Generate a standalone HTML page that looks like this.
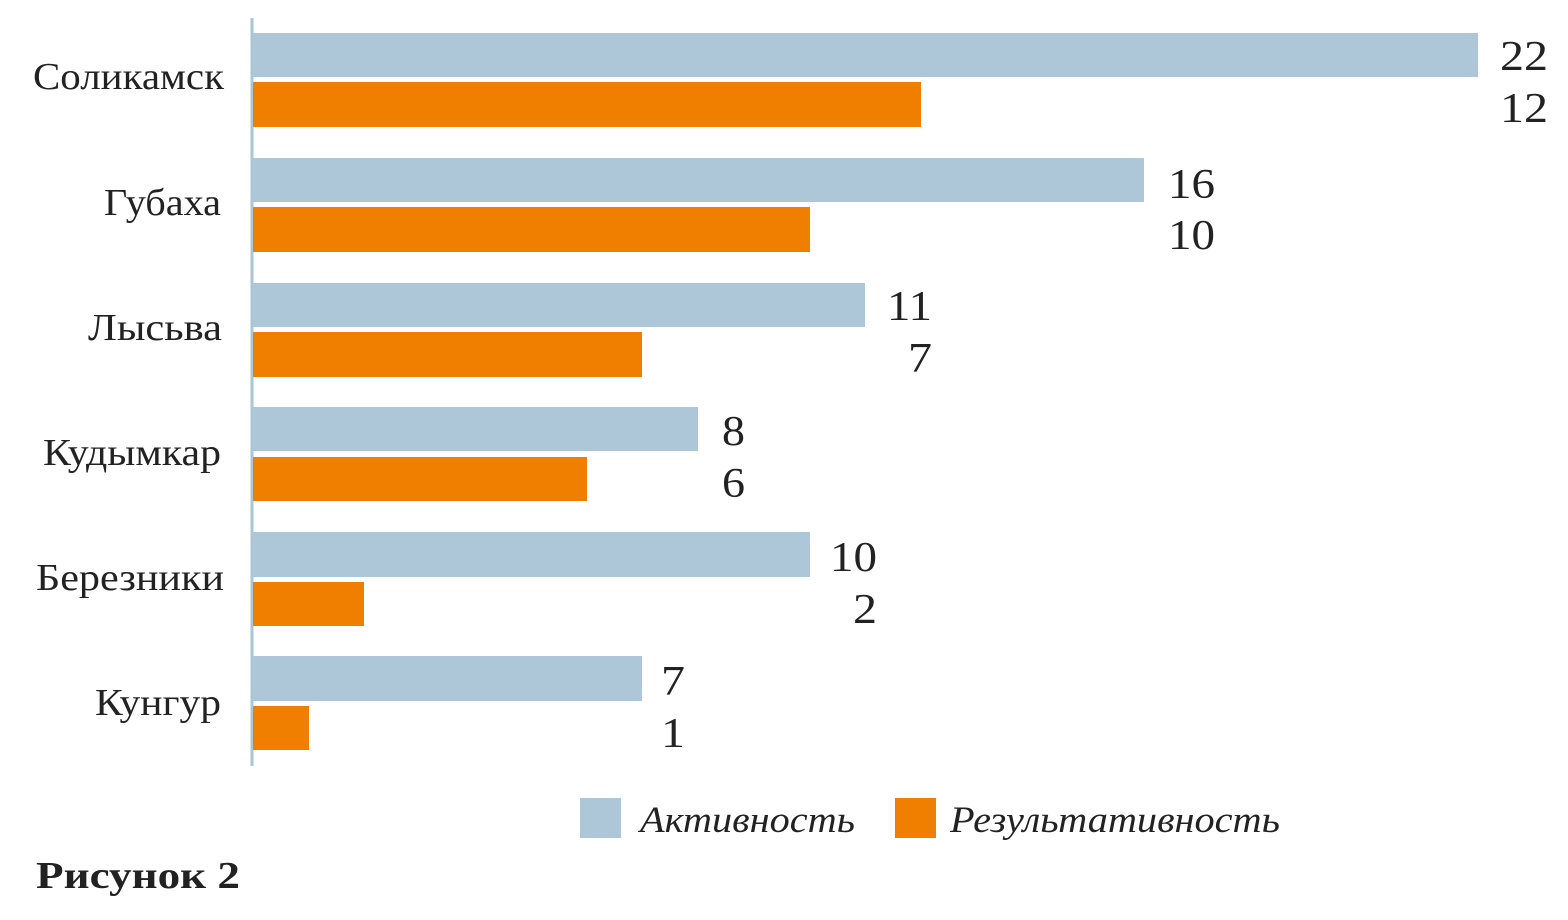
<!DOCTYPE html>
<html><head><meta charset="utf-8"><style>
body{margin:0;background:#fff;}
svg{display:block;font-family:"Liberation Serif",serif;}
</style></head><body>
<svg width="1568" height="920" viewBox="0 0 1568 920">
<line x1="252" y1="18" x2="252" y2="766" stroke="#a9c5d6" stroke-width="3"/>
<g fill="#adc7d8">
<rect x="253" y="33" width="1225" height="44"/>
<rect x="253" y="158" width="891" height="44"/>
<rect x="253" y="283" width="612" height="44"/>
<rect x="253" y="407" width="445" height="44"/>
<rect x="253" y="532" width="557" height="45"/>
<rect x="253" y="656" width="389" height="45"/>
</g>
<g fill="#f07f00">
<rect x="253" y="82" width="668" height="45"/>
<rect x="253" y="207" width="557" height="45"/>
<rect x="253" y="332" width="389" height="45"/>
<rect x="253" y="457" width="334" height="44"/>
<rect x="253" y="582" width="111" height="44"/>
<rect x="253" y="706" width="56" height="44"/>
</g>
<g font-size="42" fill="#222" lengthAdjust="spacingAndGlyphs">
<text x="1500" y="70" textLength="48" lengthAdjust="spacingAndGlyphs">22</text><text x="1500" y="122" textLength="48" lengthAdjust="spacingAndGlyphs">12</text>
<text x="1168" y="198" textLength="47" lengthAdjust="spacingAndGlyphs">16</text><text x="1168" y="249" textLength="47" lengthAdjust="spacingAndGlyphs">10</text>
<text x="887" y="320" textLength="45" lengthAdjust="spacingAndGlyphs">11</text><text x="908" y="372" textLength="24" lengthAdjust="spacingAndGlyphs">7</text>
<text x="722" y="445" textLength="23" lengthAdjust="spacingAndGlyphs">8</text><text x="722" y="497" textLength="23" lengthAdjust="spacingAndGlyphs">6</text>
<text x="830" y="571" textLength="47" lengthAdjust="spacingAndGlyphs">10</text><text x="853" y="623" textLength="24" lengthAdjust="spacingAndGlyphs">2</text>
<text x="661" y="695" textLength="24" lengthAdjust="spacingAndGlyphs">7</text><text x="661" y="747" textLength="24" lengthAdjust="spacingAndGlyphs">1</text>
</g>
<g font-size="38" fill="#222">
<text x="33" y="89" textLength="191" lengthAdjust="spacingAndGlyphs">Соликамск</text>
<text x="104" y="215" textLength="117" lengthAdjust="spacingAndGlyphs">Губаха</text>
<text x="88" y="340" textLength="134" lengthAdjust="spacingAndGlyphs">Лысьва</text>
<text x="43" y="465" textLength="178" lengthAdjust="spacingAndGlyphs">Кудымкар</text>
<text x="36" y="590" textLength="188" lengthAdjust="spacingAndGlyphs">Березники</text>
<text x="95" y="715" textLength="126" lengthAdjust="spacingAndGlyphs">Кунгур</text>
</g>
<rect x="580" y="798" width="41" height="40" fill="#adc7d8"/>
<rect x="895" y="798" width="41" height="40" fill="#f07f00"/>
<g font-size="37" font-style="italic" fill="#222">
<text x="640" y="832" textLength="215" lengthAdjust="spacingAndGlyphs">Активность</text>
<text x="950" y="832" textLength="330" lengthAdjust="spacingAndGlyphs">Результативность</text>
</g>
<text x="36" y="888" font-size="38" font-weight="bold" fill="#222" textLength="204" lengthAdjust="spacingAndGlyphs">Рисунок 2</text>
</svg>
</body></html>
